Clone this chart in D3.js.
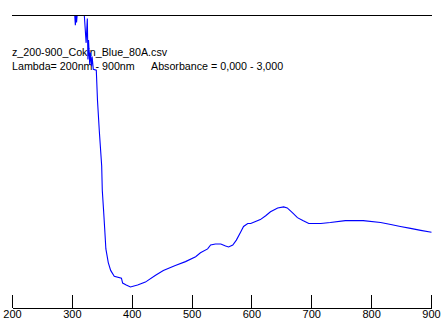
<!DOCTYPE html>
<html>
<head>
<meta charset="utf-8">
<script src="https://cdn.jsdelivr.net/npm/d3@7"></script>
<style>
  html, body { margin: 0; padding: 0; background: #fff; }
  svg { display: block; }
  text { font-family: "Liberation Sans", Arial, sans-serif; font-size: 10.7px; fill: #000; }
  .tick text { font-size: 11px; }
</style>
</head>
<body>
<div id="chart"></div>
<script>
// ==========================
// DATA
// ==========================
const fileName = "z_200-900_Cokin_Blue_80A.csv";
const rangeLabel = "Lambda= 200nm - 900nm";
const absLabel = "Absorbance = 0,000 - 3,000";
const xTicks = [200, 300, 400, 500, 600, 700, 800, 900];

// wavelength (nm) and absorbance
const wavelength = [
  304, 305, 306, 307, 308, 309, 320, 323, 325, 326, 327, 329, 330, 332, 333, 335,
  340, 342, 345, 349, 350, 352, 354, 356, 360, 364, 370, 382, 384, 390, 397, 409,
  422, 439, 452, 472, 489, 506, 514, 526, 531, 539, 548, 556, 561, 568, 574, 581,
  586, 593, 598, 606, 614, 623, 631, 643, 653, 659, 668, 676, 685, 695, 715, 731,
  756, 786, 815, 832, 848, 865, 882, 900
];
const absorbance = [
  3.00, 2.90, 3.00, 2.93, 3.00, 3.00, 3.00, 2.72, 2.97, 2.55, 2.75, 2.50, 2.62, 2.48, 2.58, 2.45,
  2.44, 2.13, 1.82, 1.46, 1.21, 1.02, 0.82, 0.61, 0.47, 0.39, 0.33, 0.31, 0.26, 0.24, 0.22, 0.24,
  0.27, 0.34, 0.39, 0.44, 0.48, 0.53, 0.57, 0.61, 0.65, 0.66, 0.66, 0.64, 0.63, 0.65, 0.70, 0.78,
  0.84, 0.87, 0.87, 0.89, 0.91, 0.95, 0.99, 1.03, 1.04, 1.03, 0.98, 0.93, 0.90, 0.87, 0.87, 0.88,
  0.90, 0.90, 0.88, 0.86, 0.84, 0.82, 0.80, 0.78
];

// ==========================
// CHART
// ==========================
const width = 443;
const height = 323;

const svg = d3.select("#chart")
  .append("svg")
  .attr("width", width)
  .attr("height", height);

const x = d3.scaleLinear().domain([200, 900]).range([12, 431]);
const y = d3.scaleLinear().domain([0, 3]).range([308, 15]);

const points = wavelength.map((w, i) => [w, absorbance[i]]);

// header texts
svg.append("text").attr("x", 12).attr("y", 56).text(fileName);
svg.append("text").attr("x", 12).attr("y", 70).text(rangeLabel);
svg.append("text").attr("x", 151).attr("y", 70).text(absLabel);

// spectrum
const line = d3.line()
  .x(d => x(d[0]) + 0.5)
  .y(d => y(d[1]) + 0.5);

svg.append("path")
  .datum(points)
  .attr("d", line)
  .attr("fill", "none")
  .attr("stroke", "#0000ff")
  .attr("stroke-width", 1.1);

// top line = max absorbance
svg.append("line")
  .attr("x1", x(200))
  .attr("x2", x(900) + 1)
  .attr("y1", y(3) + 0.5)
  .attr("y2", y(3) + 0.5)
  .attr("stroke", "#000")
  .attr("shape-rendering", "crispEdges");

// x axis
const axis = svg.append("g")
  .attr("transform", `translate(0,${y(0)})`)
  .call(d3.axisBottom(x)
    .tickValues(xTicks)
    .tickFormat(d3.format("d"))
    .tickSizeInner(-13)
    .tickSizeOuter(0)
    .tickPadding(2));

axis.attr("font-family", null).attr("font-size", null);
axis.selectAll("path, line")
  .attr("stroke", "#000")
  .attr("shape-rendering", "crispEdges");
axis.selectAll("text").attr("fill", "#000");
</script>
</body>
</html>
